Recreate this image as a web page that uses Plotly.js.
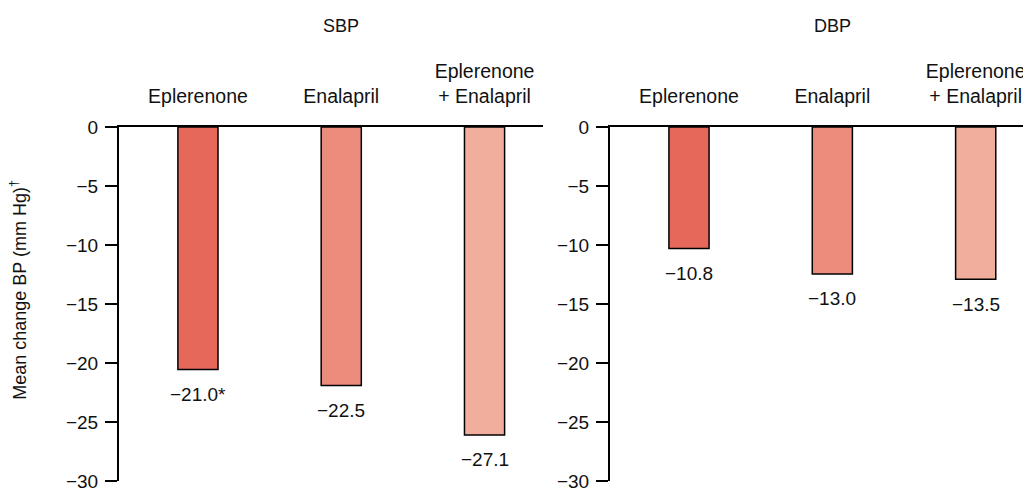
<!DOCTYPE html>
<html>
<head>
<meta charset="utf-8">
<script src="https://cdn.plot.ly/plotly-3.0.1.min.js"></script>
<style>html,body{margin:0;padding:0;background:#fff;}#chart{width:1023px;height:494px;}</style>
</head>
<body>
<div id="chart"></div>
<script>
// Data
const categories = ["Eplerenone", "Enalapril", "Eplerenone<br>+ Enalapril"];
const panelTitles = ["SBP", "DBP"];
// bar lengths as drawn in the picture (mm Hg)
const sbpBars = [-20.55, -21.9, -26.1];
const dbpBars = [-10.3, -12.45, -12.9];
// printed value labels
const sbpLabels = ["\u221221.0*", "\u221222.5", "\u221227.1"];
const dbpLabels = ["\u221210.8", "\u221213.0", "\u221213.5"];
const yTickVals = [0, -5, -10, -15, -20, -25, -30];
const yTickText = ["0", "\u22125", "\u221210", "\u221215", "\u221220", "\u221225", "\u221230"];
const barColors = ["#E5685B", "#EC8C7C", "#F2AE9C"];
const yTitle = "Mean change BP (mm Hg)<sup>\u2020</sup>";

const xs = [0, 1, 2];
const FONT = "'Liberation Sans', Arial, Helvetica, sans-serif";

const traces = [
  {type: "bar", x: xs, y: sbpBars, xaxis: "x", yaxis: "y", width: 0.28,
   marker: {color: barColors, line: {color: "#000", width: 1.5}}, hoverinfo: "none"},
  {type: "bar", x: xs, y: dbpBars, xaxis: "x2", yaxis: "y2", width: 0.28,
   marker: {color: barColors, line: {color: "#000", width: 1.5}}, hoverinfo: "none"}
];

const annotations = [];
sbpBars.forEach((v, i) => annotations.push({xref: "x", yref: "y", x: xs[i], y: v, text: sbpLabels[i],
  showarrow: false, yanchor: "middle", yshift: -25, font: {size: 19, color: "#111", family: FONT}}));
dbpBars.forEach((v, i) => annotations.push({xref: "x2", yref: "y2", x: xs[i], y: v, text: dbpLabels[i],
  showarrow: false, yanchor: "middle", yshift: -25, font: {size: 19, color: "#111", family: FONT}}));
// panel titles
annotations.push({xref: "x", yref: "paper", x: 1, y: 1.2856, text: panelTitles[0], showarrow: false,
  yanchor: "middle", font: {size: 18, color: "#111", family: FONT}});
annotations.push({xref: "x2", yref: "paper", x: 1, y: 1.2856, text: panelTitles[1], showarrow: false,
  yanchor: "middle", font: {size: 18, color: "#111", family: FONT}});
// y title
annotations.push({xref: "paper", yref: "paper", x: 19/1023, y: 0.54, text: yTitle, showarrow: false,
  textangle: -90, xanchor: "center", yanchor: "middle", font: {size: 18, color: "#111", family: FONT}});

const xaxisBase = {
  range: [-0.551, 2.408], side: "top", showline: true, linecolor: "#000", linewidth: 2,
  ticks: "", tickvals: xs, ticktext: categories, showgrid: false, zeroline: false,
  ticklabeloverflow: "allow",
  tickfont: {size: 19.5, color: "#111", family: FONT}, ticklabelstandoff: 14, fixedrange: true
};
const yaxisBase = {
  range: [-30, 0], showline: true, linecolor: "#000", linewidth: 2, ticks: "outside", ticklen: 12,
  tickwidth: 1.5, tickcolor: "#000", tickvals: yTickVals, ticktext: yTickText, showgrid: false,
  zeroline: false, tickfont: {size: 19, color: "#111", family: FONT}, ticklabelstandoff: 3, fixedrange: true
};

const layout = {
  width: 1023, height: 494,
  margin: {l: 0, r: 0, t: 127, b: 13.3},
  paper_bgcolor: "#fff", plot_bgcolor: "#fff",
  showlegend: false,
  font: {family: FONT, color: "#111"},
  xaxis: Object.assign({}, xaxisBase, {domain: [119/1023, 543/1023], anchor: "y"}),
  yaxis: Object.assign({}, yaxisBase, {domain: [0, 1], anchor: "x"}),
  xaxis2: Object.assign({}, xaxisBase, {domain: [610/1023, 1], range: [-0.551, 2.33], anchor: "y2"}),
  yaxis2: Object.assign({}, yaxisBase, {domain: [0, 1], anchor: "x2"}),
  annotations: annotations
};

Plotly.newPlot("chart", traces, layout, {displayModeBar: false, staticPlot: true});
</script>
</body>
</html>
